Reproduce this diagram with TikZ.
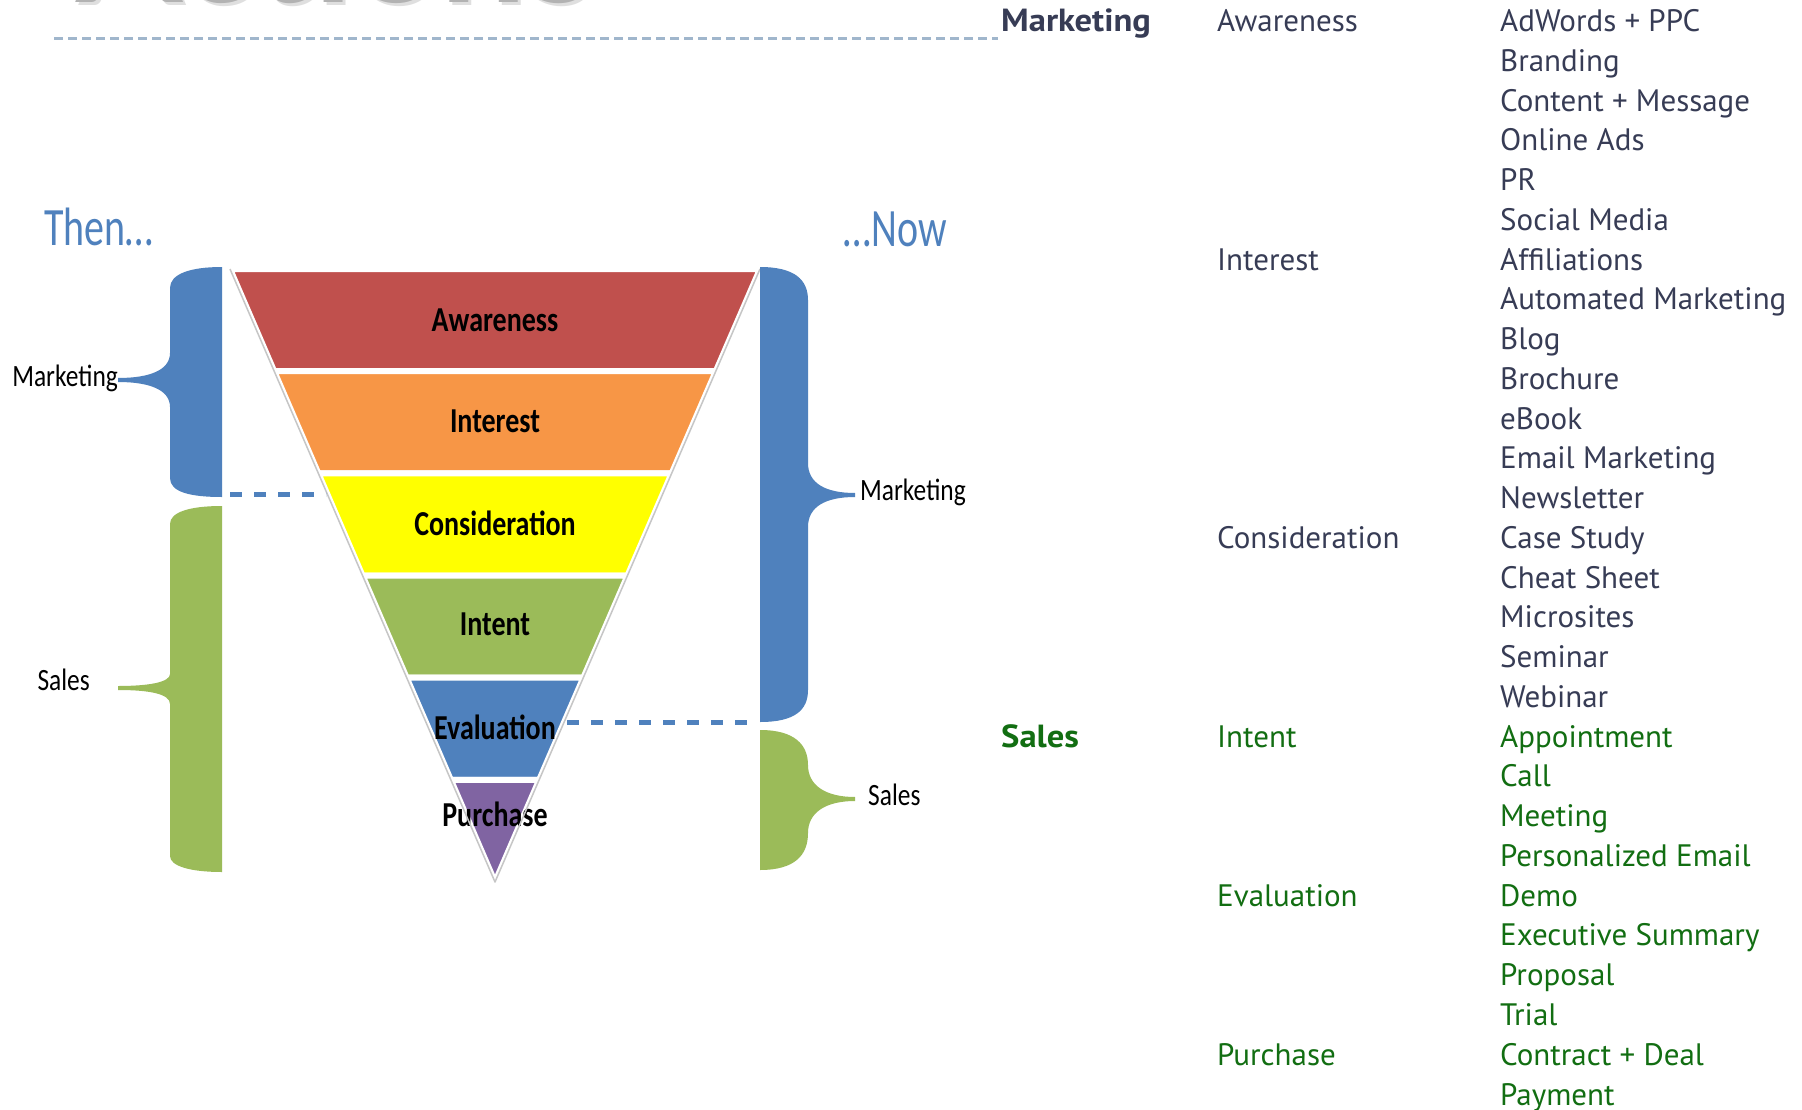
\documentclass[tikz,border=0pt]{standalone}
\usepackage{fontspec}
\setmainfont{Carlito}
\newfontfamily\funnelfont[FakeStretch=0.8]{Carlito}
\newfontfamily\sidefont[FakeStretch=0.82]{Carlito}
\newfontfamily\erafont[FakeStretch=0.74]{Carlito}
\newfontfamily\listfont{PT Sans}
\newfontfamily\headfont[FakeStretch=1.08]{PT Sans}
\newfontfamily\titlefont{Lato}
\usetikzlibrary{positioning}

% funnel palette
\definecolor{awarecol}{HTML}{C0504D}
\definecolor{interestcol}{HTML}{F79646}
\definecolor{considercol}{HTML}{FFFF00}
\definecolor{intentcol}{HTML}{9BBB59}
\definecolor{evalcol}{HTML}{4F81BD}
\definecolor{purchasecol}{HTML}{8064A2}
\definecolor{braceblue}{HTML}{4F81BD}
\definecolor{bracegreen}{HTML}{9BBB59}
% list text
\definecolor{mktgrey}{RGB}{55,60,85}
\definecolor{slsgreen}{RGB}{18,110,18}
\definecolor{rulecol}{RGB}{160,182,204}

\tikzset{
  band label/.style={inner sep=0pt, font=\funnelfont\bfseries\fontsize{35}{40}\selectfont},
  side label/.style={inner sep=0pt, font=\sidefont\fontsize{31}{36}\selectfont},
  era label/.style={inner sep=0pt, text=braceblue, font=\erafont\fontsize{54}{60}\selectfont},
  list item/.style={anchor=base west, inner sep=0pt, font=\listfont\fontsize{31}{36}\selectfont},
  list head/.style={list item, font=\headfont\bfseries\fontsize{32}{36}\selectfont},
  mkt/.style={text=mktgrey},
  sls/.style={text=slsgreen},
  split line/.style={braceblue, line width=5pt, dash pattern=on 12pt off 12pt},
  rule line/.style={rulecol, line width=3pt, dash pattern=on 9pt off 5pt},
  funnel edge/.style={gray!45, line width=1.5pt, line join=round}
}

\begin{document}
\begin{tikzpicture}[x=1pt, y=-1pt]
      \clip (0,0) rectangle (1802,1110);
      \fill[white] (0,0) rectangle (1802,1110);

      % heading, cut off at the top of the slide
      \node[anchor=base west, inner sep=0pt, text=gray!25, font=\titlefont\bfseries\fontsize{153}{160}\selectfont] (title-shadow) at (79,6) {Actions};
      \node[anchor=base west, inner sep=0pt, text=gray!60, font=\titlefont\bfseries\fontsize{153}{160}\selectfont] (title) at (76,3) {Actions};
      \draw[rule line] (54,39) -- (998,39);

      % the funnel, six bands of equal height
      \foreach \i/\col/\lab/\ly in {0/awarecol/Awareness/320, 1/interestcol/Interest/421,
          2/considercol/Consideration/523, 3/intentcol/Intent/624,
          4/evalcol/Evaluation/727, 5/purchasecol/Purchase/814} {
          \pgfmathsetmacro\ya{269+\i*613/6}
          \pgfmathsetmacro\yb{269+(\i+1)*613/6}
          \pgfmathsetmacro\wa{(882-\ya)/613*265}
          \pgfmathsetmacro\wb{(882-\yb)/613*265}
          \filldraw[fill=\col, draw=white, line width=6pt, line join=round]
              (495-\wa,\ya) -- (495+\wa,\ya) -- (495+\wb,\yb) -- (495-\wb,\yb) -- cycle;
          \node[band label] (band-\i) at (495,\ly) {\lab};
      }
      \draw[funnel edge] (230,269) -- (495,882) -- (760,269);

      % then: marketing and sales braces on the left
      \fill[braceblue] (222,267) -- (222,497)
          .. controls (190,497) and (170,492) .. (170,478) -- (170,407)
          .. controls (170,390) and (150,382) .. (118,382) -- (118,378)
          .. controls (150,378) and (170,370) .. (170,353) -- (170,288)
          .. controls (170,274) and (190,267) .. (222,267) -- cycle;
      \fill[bracegreen] (222,506) -- (222,872)
          .. controls (190,872) and (170,866) .. (170,856) -- (170,704)
          .. controls (170,694) and (150,690) .. (118,690) -- (118,686)
          .. controls (150,686) and (170,682) .. (170,674) -- (170,524)
          .. controls (170,512) and (190,506) .. (222,506) -- cycle;
      \coordinate (then-mkt-tip) at (118,378);
      \coordinate (then-sls-tip) at (118,680);

      % now: marketing and sales braces on the right
      \fill[braceblue] (760,267)
          .. controls (795,267) and (808,280) .. (808,300) -- (808,463)
          .. controls (808,483) and (825,493) .. (855,493) -- (855,497)
          .. controls (825,497) and (808,507) .. (808,527) -- (808,690)
          .. controls (808,710) and (795,722) .. (760,722) -- cycle;
      \fill[bracegreen] (760,730)
          .. controls (795,730) and (808,745) .. (808,765)
          .. controls (808,785) and (825,797) .. (855,797) -- (855,801)
          .. controls (825,801) and (808,813) .. (808,833)
          .. controls (808,855) and (795,870) .. (760,870) -- cycle;
      \coordinate (now-mkt-tip) at (855,492);
      \coordinate (now-sls-tip) at (855,795);

      % where marketing hands over to sales
      \coordinate (then-split) at (230,494);
      \coordinate (then-edge) at (326,494);
      \coordinate (now-split) at (756,722);
      \coordinate (now-edge) at (567,722);
      \draw[split line] (then-split) -- (then-edge);
      \draw[split line] (now-edge) -- (now-split);

      \node[side label, left=0pt of then-mkt-tip] (then-mkt) {Marketing};
      \node[side label, left=28pt of then-sls-tip] (then-sls) {Sales};
      \node[side label, right=5pt of now-mkt-tip] (now-mkt) {Marketing};
      \node[side label, right=13pt of now-sls-tip] (now-sls) {Sales};
      \node[era label, anchor=base west] (then) at (44,245) {Then…};
      \node[era label, anchor=base east] (now) at (947,247) {…Now};

      % tactics per stage
      \node[list head, mkt] (mkt-head) at (1001,31.5) {Marketing};
      \node[list head, sls] (sls-head) at (1001,31.5+18*39.76) {Sales};
      \foreach \k/\txt in {0/Awareness, 6/Interest, 13/Consideration} {
          \node[list item, mkt] (stage-\k) at (1217,31.5+\k*39.76) {\txt};
      }
      \foreach \k/\txt in {18/Intent, 22/Evaluation, 26/Purchase} {
          \node[list item, sls] (stage-\k) at (1217,31.5+\k*39.76) {\txt};
      }
      \foreach \txt [count=\k from 0] in {AdWords + PPC, Branding, Content + Message,
          Online Ads, PR, Social Media, Affiliations, Automated Marketing, Blog,
          Brochure, eBook, Email Marketing, Newsletter, Case Study, Cheat Sheet,
          Microsites, Seminar, Webinar} {
          \node[list item, mkt] (item-\k) at (1500,31.5+\k*39.76) {\txt};
      }
      \foreach \txt [count=\k from 18] in {Appointment, Call, Meeting,
          Personalized Email, Demo, Executive Summary, Proposal, Trial,
          Contract + Deal, Payment} {
          \node[list item, sls] (item-\k) at (1500,31.5+\k*39.76) {\txt};
      }
\end{tikzpicture}
\end{document}
